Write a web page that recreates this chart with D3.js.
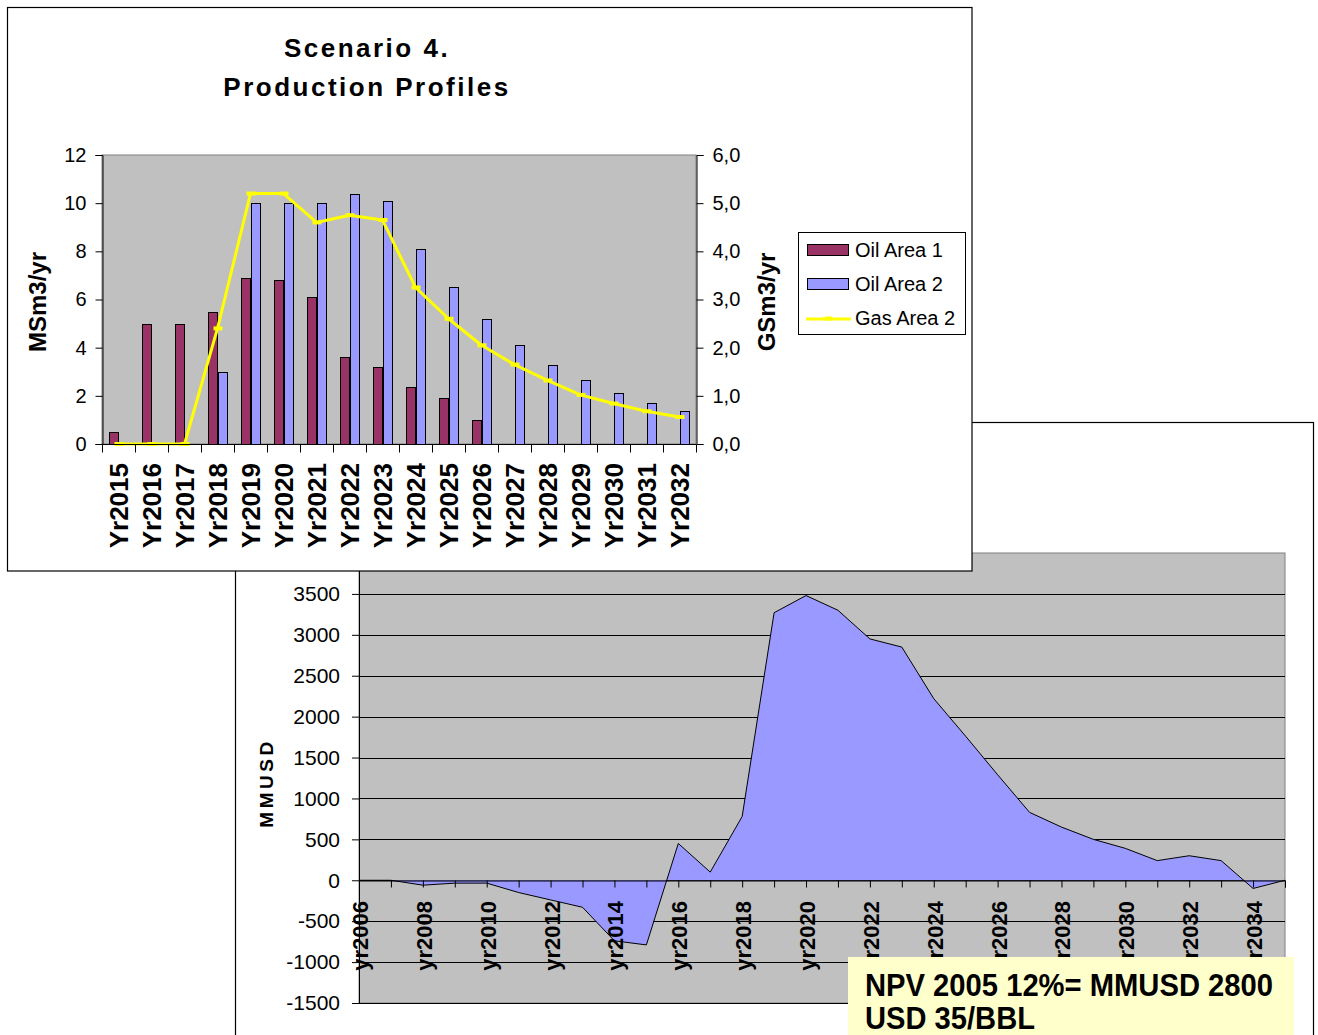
<!DOCTYPE html>
<html>
<head>
<meta charset="utf-8">
<script src="https://cdn.jsdelivr.net/npm/d3@7"></script>
<style>
  html, body { margin: 0; padding: 0; background: #fff; }
  svg { display: block; font-family: "Liberation Sans", Arial, sans-serif; }
</style>
</head>
<body>
<svg id="chart" width="1318" height="1035"></svg>
<script>
// ---- Production profiles (top chart) ----
const prodYears = ["Yr2015","Yr2016","Yr2017","Yr2018","Yr2019","Yr2020","Yr2021","Yr2022","Yr2023",
                   "Yr2024","Yr2025","Yr2026","Yr2027","Yr2028","Yr2029","Yr2030","Yr2031","Yr2032"];
const oilArea1 = [0.5, 5.0, 5.0, 5.5, 6.9, 6.8, 6.1, 3.6, 3.2, 2.35, 1.9, 1.0, 0, 0, 0, 0, 0, 0];
const oilArea2 = [0, 0, 0, 3.0, 10.0, 10.0, 10.0, 10.4, 10.1, 8.1, 6.5, 5.2, 4.1, 3.3, 2.65, 2.1, 1.7, 1.35];
const gasArea2 = [0, 0, 0, 2.4, 5.2, 5.2, 4.6, 4.75, 4.65, 3.25, 2.6, 2.05, 1.65, 1.32, 1.02, 0.84, 0.68, 0.56];
const leftTicks = [0, 2, 4, 6, 8, 10, 12];
const rightTicks = [0, 1, 2, 3, 4, 5, 6];
const seriesNames = ["Oil Area 1", "Oil Area 2", "Gas Area 2"];

// ---- Cash flow (bottom chart) ----
const cashYears = ["yr2006","yr2007","yr2008","yr2009","yr2010","yr2011","yr2012","yr2013","yr2014","yr2015",
                   "yr2016","yr2017","yr2018","yr2019","yr2020","yr2021","yr2022","yr2023","yr2024","yr2025",
                   "yr2026","yr2027","yr2028","yr2029","yr2030","yr2031","yr2032","yr2033","yr2034","yr2035"];
const cashFlow = [0, 0, -60, -35, -35, -150, -240, -330, -740, -790,
                  450, 100, 780, 3270, 3480, 3300, 2950, 2850, 2220, 1760,
                  1290, 830, 650, 500, 390, 240, 300, 240, -100, 0];
const cashTicks = [-1500, -1000, -500, 0, 500, 1000, 1500, 2000, 2500, 3000, 3500];
const npvLines = ["NPV 2005 12%= MMUSD 2800", "USD 35/BBL"];

const colors = { oil1: "#993366", oil2: "#9999FF", gas: "#FFFF00", plot: "#C0C0C0", area: "#9999FF" };

const svg = d3.select("#chart");

function styleAxis(g, fontSize) {
  g.selectAll(".domain").attr("stroke", "#000").attr("stroke-width", 1);
  g.selectAll(".tick line").attr("stroke", "#000").attr("stroke-width", 1);
  g.selectAll(".tick text").attr("fill", "#000").style("font-size", fontSize + "px")
    .style("font-family", "'Liberation Sans', Arial, sans-serif");
}

// =================== Bottom chart: annual cash flow ===================
const B = { left: 359, right: 1285, top: 553, bottom: 1003 };
const cashChart = svg.append("g");
cashChart.append("rect").attr("x", 235.5).attr("y", 422.5).attr("width", 1078).attr("height", 640)
  .attr("fill", "#fff").attr("stroke", "#000").attr("stroke-width", 1.2);
cashChart.append("rect").attr("x", B.left).attr("y", B.top).attr("width", B.right - B.left).attr("height", B.bottom - B.top)
  .attr("fill", colors.plot).attr("stroke", "#808080").attr("stroke-width", 1);

const xB = d3.scalePoint().domain(cashYears).range([B.left, B.right]);
const yB = d3.scaleLinear().domain([-1500, 4000]).range([B.bottom, B.top]);

cashChart.append("g").selectAll("line").data(cashTicks).join("line")
  .attr("x1", B.left).attr("x2", B.right)
  .attr("y1", d => Math.round(yB(d)) + 0.5).attr("y2", d => Math.round(yB(d)) + 0.5)
  .attr("stroke", "#000").attr("stroke-width", 1);

const cashData = cashYears.map((y, i) => ({ year: y, v: cashFlow[i] }));
cashChart.append("path").datum(cashData)
  .attr("fill", colors.area)
  .attr("d", d3.area().x(d => xB(d.year)).y0(yB(0)).y1(d => yB(d.v)));
cashChart.append("path").datum(cashData)
  .attr("fill", "none").attr("stroke", "#000").attr("stroke-width", 1)
  .attr("d", d3.line().x(d => xB(d.year)).y(d => yB(d.v)));

const yAxisB = cashChart.append("g").attr("transform", `translate(${B.left},0)`)
  .call(d3.axisLeft(yB).tickValues(cashTicks).tickSize(7).tickPadding(12).tickFormat(d => String(d)));
styleAxis(yAxisB, 21);

const xAxisB = cashChart.append("g").attr("transform", `translate(0,${Math.round(yB(0)) + 0.5})`)
  .call(d3.axisBottom(xB).tickSize(7).tickFormat(""));
styleAxis(xAxisB, 20);

cashChart.append("g").selectAll("text").data(cashYears.filter((d, i) => i % 2 === 0)).join("text")
  .attr("transform", d => `translate(${xB(d) + 1},${901}) rotate(-90)`)
  .attr("text-anchor", "end").attr("dy", "0.36em")
  .style("font-size", "22px").style("font-weight", "bold").text(d => d);

cashChart.append("text")
  .attr("transform", "translate(266,783) rotate(-90)")
  .attr("text-anchor", "middle").attr("dy", "0.36em")
  .style("font-size", "19px").style("font-weight", "bold").style("letter-spacing", "3.5px")
  .text("MMUSD");

// NPV note
cashChart.append("rect").attr("x", 848).attr("y", 957).attr("width", 446).attr("height", 90).attr("fill", "#FFFFCC");
cashChart.append("g").selectAll("text").data(npvLines).join("text")
  .attr("x", 865).attr("y", (d, i) => 996 + i * 33)
  .attr("textLength", (d, i) => i === 0 ? 408 : 170).attr("lengthAdjust", "spacingAndGlyphs")
  .style("font-size", "31px").style("font-weight", "bold")
  .text(d => d);

// =================== Top chart: production profiles ===================
const T = { left: 102, right: 696, top: 155, bottom: 444 };
const prodChart = svg.append("g");
prodChart.append("rect").attr("x", 7.5).attr("y", 7.5).attr("width", 964.5).attr("height", 563.5)
  .attr("fill", "#fff").attr("stroke", "#000").attr("stroke-width", 1.2);
prodChart.append("rect").attr("x", T.left).attr("y", T.top).attr("width", T.right - T.left).attr("height", T.bottom - T.top)
  .attr("fill", colors.plot).attr("stroke", "#808080").attr("stroke-width", 1);

prodChart.append("text").attr("x", 366).attr("text-anchor", "middle")
  .style("font-size", "26px").style("font-weight", "bold").style("letter-spacing", "2.5px")
  .selectAll("tspan").data(["Scenario 4.", "Production Profiles"]).join("tspan")
  .attr("x", 367).attr("y", (d, i) => 57 + i * 39).text(d => d);

const xT = d3.scaleBand().domain(prodYears).range([T.left, T.right]).paddingInner(0).paddingOuter(0);
const xSub = d3.scaleBand().domain(["oil1", "oil2"]).range([0, xT.bandwidth()]).paddingInner(0).paddingOuter(0.75);
const yL = d3.scaleLinear().domain([0, 12]).range([T.bottom, T.top]);
const yR = d3.scaleLinear().domain([0, 6]).range([T.bottom, T.top]);

const barData = [];
prodYears.forEach((yr, i) => {
  barData.push({ yr, key: "oil1", v: oilArea1[i] });
  barData.push({ yr, key: "oil2", v: oilArea2[i] });
});
prodChart.append("g").selectAll("rect").data(barData.filter(d => d.v > 0)).join("rect")
  .attr("x", d => Math.round(xT(d.yr) + xSub(d.key)) + 0.5)
  .attr("y", d => Math.round(yL(d.v)) + 0.5)
  .attr("width", Math.round(xSub.bandwidth()))
  .attr("height", d => Math.round(yL(0)) - Math.round(yL(d.v)))
  .attr("fill", d => d.key === "oil1" ? colors.oil1 : colors.oil2)
  .attr("stroke", "#000").attr("stroke-width", 1);

const gasData = prodYears.map((yr, i) => ({ yr, v: gasArea2[i] }));
const cx = d => xT(d.yr) + xT.bandwidth() / 2;
prodChart.append("path").datum(gasData)
  .attr("fill", "none").attr("stroke", colors.gas).attr("stroke-width", 3).attr("stroke-linejoin", "round")
  .attr("d", d3.line().x(cx).y(d => yR(d.v)));
prodChart.append("g").selectAll("line").data(gasData).join("line")
  .attr("x1", d => cx(d) - 4).attr("x2", d => cx(d) + 5)
  .attr("y1", d => yR(d.v)).attr("y2", d => yR(d.v))
  .attr("stroke", colors.gas).attr("stroke-width", 4);

// category axis with ticks at band boundaries
const xAxisT = prodChart.append("g").attr("transform", `translate(0,${T.bottom + 0.5})`);
xAxisT.append("line").attr("x1", T.left).attr("x2", T.right).attr("stroke", "#000");
xAxisT.selectAll("line.b").data(prodYears.concat(["end"])).join("line").attr("class", "b")
  .attr("x1", (d, i) => Math.round(T.left + i * xT.bandwidth()) + 0.5)
  .attr("x2", (d, i) => Math.round(T.left + i * xT.bandwidth()) + 0.5)
  .attr("y1", 0).attr("y2", 8).attr("stroke", "#000");
prodChart.append("g").selectAll("text").data(prodYears).join("text")
  .attr("transform", d => `translate(${xT(d) + xT.bandwidth() / 2},463) rotate(-90)`)
  .attr("text-anchor", "end").attr("dy", "0.36em")
  .style("font-size", "26px").style("font-weight", "bold").text(d => d);

const yAxisL = prodChart.append("g").attr("transform", `translate(${T.left + 0.5},0)`)
  .call(d3.axisLeft(yL).tickValues(leftTicks).tickSize(7).tickPadding(9));
styleAxis(yAxisL, 20);
const yAxisR = prodChart.append("g").attr("transform", `translate(${T.right + 0.5},0)`)
  .call(d3.axisRight(yR).tickValues(rightTicks).tickSize(7).tickPadding(9)
    .tickFormat(d => d.toFixed(1).replace(".", ",")));
styleAxis(yAxisR, 20);

prodChart.append("text").attr("transform", "translate(37,302) rotate(-90)")
  .attr("text-anchor", "middle").attr("dy", "0.36em")
  .style("font-size", "24px").style("font-weight", "bold").text("MSm3/yr");
prodChart.append("text").attr("transform", "translate(766,302) rotate(-90)")
  .attr("text-anchor", "middle").attr("dy", "0.36em")
  .style("font-size", "24px").style("font-weight", "bold").text("GSm3/yr");

// legend
const legend = prodChart.append("g");
legend.append("rect").attr("x", 798.5).attr("y", 232.5).attr("width", 167).attr("height", 102)
  .attr("fill", "#fff").attr("stroke", "#000").attr("stroke-width", 1);
const legendItems = legend.selectAll("g").data(seriesNames).join("g")
  .attr("transform", (d, i) => `translate(0,${250 + i * 34})`);
legendItems.filter((d, i) => i < 2).append("rect")
  .attr("x", 807.5).attr("y", -5.5).attr("width", 41).attr("height", 11)
  .attr("fill", (d, i) => i === 0 ? colors.oil1 : colors.oil2).attr("stroke", "#000");
const gasKey = legendItems.filter((d, i) => i === 2);
gasKey.append("line")
  .attr("x1", 806).attr("x2", 851).attr("y1", 1).attr("y2", 1)
  .attr("stroke", colors.gas).attr("stroke-width", 3);
gasKey.append("line")
  .attr("x1", 825).attr("x2", 832).attr("y1", 0.5).attr("y2", 0.5)
  .attr("stroke", colors.gas).attr("stroke-width", 4);
legendItems.append("text").attr("x", 855).attr("y", 0).attr("dy", "0.36em")
  .style("font-size", "20px").text(d => d);
</script>
</body>
</html>
